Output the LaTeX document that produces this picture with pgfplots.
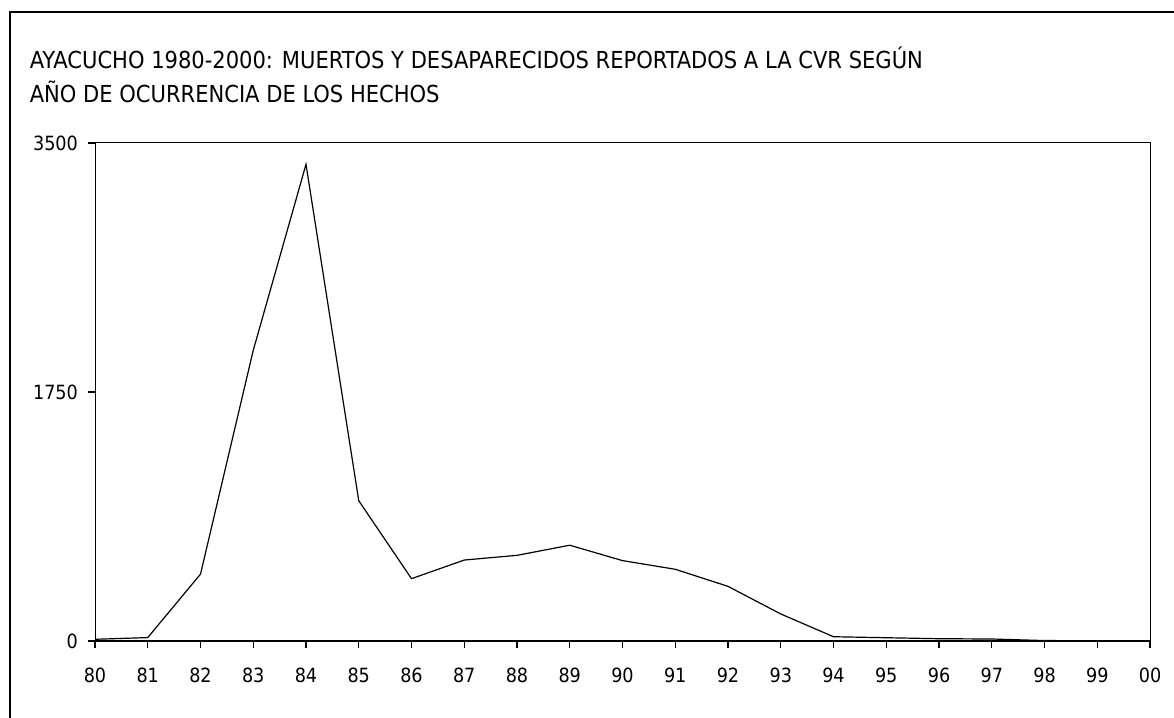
\documentclass[border=0pt]{standalone}
\usepackage{pgfplots}
\pgfplotsset{compat=1.18}
\usepackage{fontspec}
\setmainfont{DejaVu Sans Condensed}
\begin{document}
\begin{tikzpicture}
\useasboundingbox (0,0) rectangle (587pt,359pt);
\draw[line width=1pt] (5pt,-20pt) -- (5pt,353pt) -- (620pt,353pt);
\node[anchor=base west, inner sep=0pt, font=\fontsize{11.7pt}{14pt}\selectfont] at (14.7pt,324.5pt) {AYACUCHO 1980-2000: MUERTOS Y DESAPARECIDOS REPORTADOS A LA CVR SEGÚN};
\node[anchor=base west, inner sep=0pt, font=\fontsize{11.7pt}{14pt}\selectfont] at (14.7pt,307.5pt) {AÑO DE OCURRENCIA DE LOS HECHOS};
\begin{axis}[
  at={(47.5pt,38.5pt)}, anchor=south west,
  scale only axis, width=527.5pt, height=249pt,
  font=\fontsize{9.8pt}{11pt}\selectfont,
  every tick label/.append style={font=\fontsize{9.8pt}{11pt}\selectfont},
  xmin=0, xmax=20, ymin=0, ymax=3500,
  xtick={0,...,20},
  xticklabels={80,81,82,83,84,85,86,87,88,89,90,91,92,93,94,95,96,97,98,99,00},
  ytick={0,1750,3500},
  tick align=outside, major tick length=3.5pt,
  tick style={black, line width=0.6pt},
  axis line style={black, line width=0.5pt},
  x tick label style={yshift=-6.5pt},
  y tick label style={xshift=-1.5pt},
  /pgf/number format/assume math mode=true,
  scaled y ticks=false,
  yticklabel style={/pgf/number format/1000 sep={}},
  xtick pos=bottom, ytick pos=left,
  clip=false,
]
\addplot[black, line width=0.6pt] coordinates {
(0,12) (1,24) (2,470) (3,2043) (4,3350) (5,986) (6,438) (7,569) (8,602) (9,673)
(10,565) (11,504) (12,384) (13,190) (14,30) (15,23) (16,16) (17,14) (18,3) (19,2) (20,0)
};
\draw[black, line width=1pt] (axis cs:0,0) -- (axis cs:20,0);
\end{axis}
\end{tikzpicture}
\end{document}
